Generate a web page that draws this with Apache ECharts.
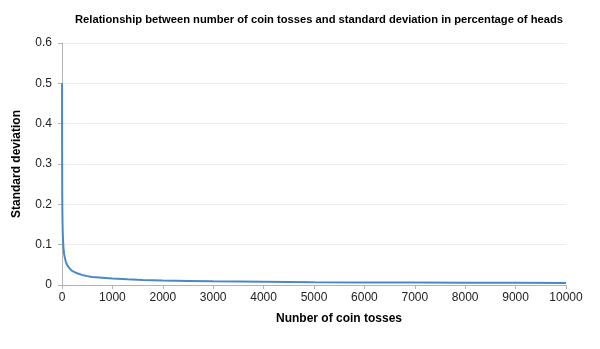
<!DOCTYPE html>
<html>
<head>
<meta charset="utf-8">
<script src="https://cdn.jsdelivr.net/npm/echarts@6/dist/echarts.min.js"></script>
<style>html,body{margin:0;padding:0;background:#fff;}#c{width:600px;height:349px;}</style>
</head>
<body>
<div id="c"></div>
<script>
// Values
var tosses = [1, 2, 3, 4, 5, 7, 10, 15, 20, 30, 40, 50, 75, 100, 150, 200, 300, 400, 500, 600, 800, 1000, 1300, 1600, 2000, 2500, 3000, 4000, 5000, 6000, 7000, 8000, 9000, 10000];
var stdDev = [0.5, 0.354, 0.289, 0.25, 0.224, 0.189, 0.158, 0.129, 0.112, 0.091, 0.079, 0.071, 0.058, 0.05, 0.041, 0.035, 0.029, 0.025, 0.022, 0.02, 0.018, 0.016, 0.014, 0.0125, 0.011, 0.01, 0.009, 0.008, 0.007, 0.0065, 0.006, 0.0056, 0.0053, 0.005];
var xTicks = [0, 1000, 2000, 3000, 4000, 5000, 6000, 7000, 8000, 9000, 10000];
var yTicks = [0, 0.1, 0.2, 0.3, 0.4, 0.5, 0.6];

var data = tosses.map(function (n, i) { return [n, stdDev[i]]; });
var chart = echarts.init(document.getElementById('c'));
var font = 'Liberation Sans, Arial, sans-serif';
chart.setOption({
  animation: false,
  backgroundColor: '#ffffff',
  grid: { left: 62, right: 34, top: 43, bottom: 64, containLabel: false },
  title: {
    text: 'Relationship between number of coin tosses and standard deviation in percentage of heads',
    left: 70, top: 9,
    textStyle: { fontFamily: font, fontSize: 11.2, fontWeight: 'bold', color: '#000' }
  },
  xAxis: {
    type: 'value', min: xTicks[0], max: xTicks[xTicks.length - 1], interval: 1000,
    axisLine: { show: true, lineStyle: { color: '#b3b3b3', width: 1 } },
    axisTick: { show: true, length: 4, lineStyle: { color: '#b3b3b3' } },
    axisLabel: { fontFamily: font, fontSize: 12, color: '#222', margin: 7,
      formatter: function (v) { return String(v); } },
    splitLine: { show: false }
  },
  yAxis: {
    type: 'value', min: yTicks[0], max: yTicks[yTicks.length - 1], interval: 0.1,
    axisLine: { show: true, lineStyle: { color: '#b3b3b3', width: 1 } },
    axisTick: { show: true, length: 4, lineStyle: { color: '#b3b3b3' } },
    axisLabel: { fontFamily: font, fontSize: 12, color: '#222', margin: 10 },
    splitLine: { show: true, lineStyle: { color: '#ececec', width: 1 } }
  },
  graphic: [
    { type: 'text', left: 276, top: 313,
      style: { text: 'Nunber of coin tosses', font: 'bold 12px ' + font, fill: '#000' } },
    { type: 'text', x: 17, y: 164, rotation: Math.PI / 2,
      style: { text: 'Standard deviation', font: 'bold 12px ' + font, fill: '#000', align: 'center', verticalAlign: 'middle' } }
  ],
  series: [{
    type: 'line', data: data, showSymbol: false, smooth: false,
    lineStyle: { color: '#4a89c8', width: 2 }
  }]
});
</script>
</body>
</html>
